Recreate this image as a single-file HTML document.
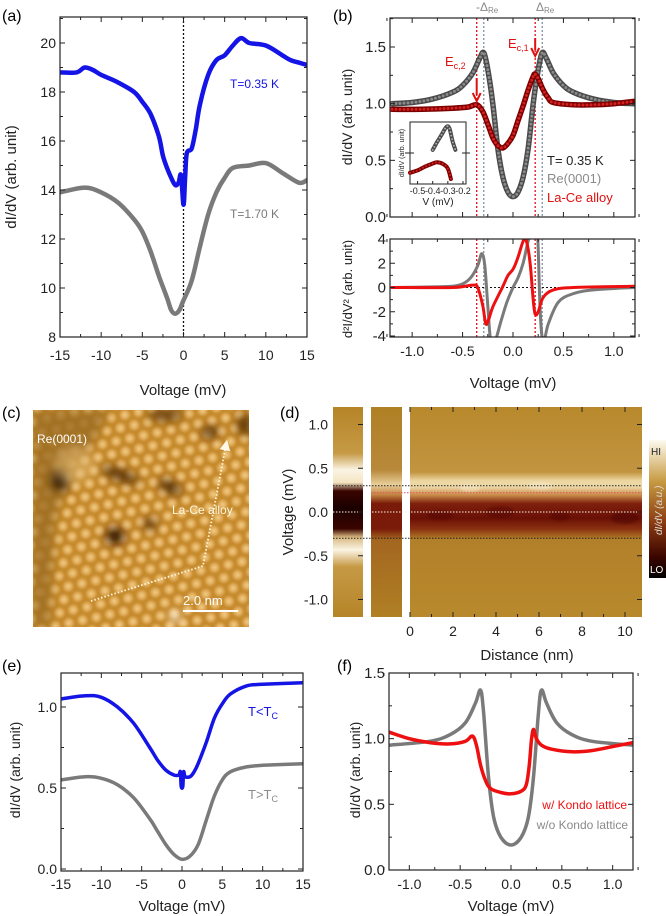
<!DOCTYPE html>
<html><head><meta charset="utf-8"><style>
html,body{margin:0;padding:0;background:#fff;width:666px;height:916px;overflow:hidden}
svg{display:block;font-family:"Liberation Sans",Arial,sans-serif}
</style></head><body>
<svg id="fig" width="666" height="916" viewBox="0 0 666 916" xmlns="http://www.w3.org/2000/svg">
<defs>
<clipPath id="clipA"><rect x="60" y="17" width="247" height="320"/></clipPath>
<clipPath id="clipB1"><rect x="390" y="18" width="245" height="199"/></clipPath>
<clipPath id="clipB2"><rect x="390" y="239" width="245" height="98"/></clipPath>
<clipPath id="clipE"><rect x="61" y="673" width="242" height="198"/></clipPath>
<clipPath id="clipF"><rect x="389" y="673" width="244" height="197"/></clipPath>
<clipPath id="clipC"><rect x="33" y="410" width="216" height="217"/></clipPath>
<radialGradient id="atom" cx="50%" cy="50%" r="50%">
<stop offset="0" stop-color="#f2cf88"/><stop offset="0.6" stop-color="#dca552"/><stop offset="1" stop-color="#c98a2c" stop-opacity="0"/>
</radialGradient>
<pattern id="lattice" x="0" y="0" width="14" height="24" patternUnits="userSpaceOnUse">
<circle cx="7" cy="6" r="7" fill="url(#atom)"/><circle cx="0" cy="18" r="7" fill="url(#atom)"/><circle cx="14" cy="18" r="7" fill="url(#atom)"/>
</pattern>
<filter id="blur2"><feGaussianBlur stdDeviation="5"/></filter>
<filter id="blur1"><feGaussianBlur stdDeviation="1"/></filter>
<filter id="blur08"><feGaussianBlur stdDeviation="0.9"/></filter>
<linearGradient id="strip1" x1="0" y1="0" x2="0" y2="1">
<stop offset="0" stop-color="#b58427"/><stop offset="0.22" stop-color="#c69a45"/><stop offset="0.3" stop-color="#fbf4e4"/><stop offset="0.36" stop-color="#f3e4c0"/><stop offset="0.4" stop-color="#3a0500"/><stop offset="0.48" stop-color="#1a0000"/><stop offset="0.58" stop-color="#3a0500"/><stop offset="0.62" stop-color="#d8b880"/><stop offset="0.68" stop-color="#fbf4e4"/><stop offset="0.76" stop-color="#c69a45"/><stop offset="1" stop-color="#b58427"/>
</linearGradient>
<linearGradient id="strip2" x1="0" y1="0" x2="0" y2="1">
<stop offset="0" stop-color="#b08024"/><stop offset="0.3" stop-color="#b8893a"/><stop offset="0.37" stop-color="#e8cf9a"/><stop offset="0.42" stop-color="#c08040"/><stop offset="0.46" stop-color="#7a1a08"/><stop offset="0.58" stop-color="#7a1a08"/><stop offset="0.63" stop-color="#a36620"/><stop offset="1" stop-color="#b08024"/>
</linearGradient>
<linearGradient id="strip3" x1="0" y1="0" x2="0" y2="1">
<stop offset="0" stop-color="#b8892c"/><stop offset="0.31" stop-color="#c29440"/><stop offset="0.35" stop-color="#ecd6a0"/><stop offset="0.38" stop-color="#eed9a8"/><stop offset="0.42" stop-color="#c88a48"/><stop offset="0.46" stop-color="#7e200c"/><stop offset="0.53" stop-color="#6a1006"/><stop offset="0.58" stop-color="#8a3010"/><stop offset="0.63" stop-color="#b2802a"/><stop offset="1" stop-color="#b8892c"/>
</linearGradient>
<linearGradient id="cbar" x1="0" y1="0" x2="0" y2="1">
<stop offset="0" stop-color="#fdfaf0"/><stop offset="0.3" stop-color="#c79a42"/><stop offset="0.6" stop-color="#8a3a10"/><stop offset="0.85" stop-color="#3a0500"/><stop offset="1" stop-color="#000"/>
</linearGradient>
<marker id="arrowW" markerWidth="6" markerHeight="6" refX="3" refY="3" orient="auto"><path d="M0,0 L6,3 L0,6 z" fill="#fff8e8"/></marker>
</defs>

<text x="2" y="21" font-size="16">(a)</text>
<text x="333" y="21" font-size="16">(b)</text>
<text x="2" y="418" font-size="16">(c)</text>
<text x="280" y="418" font-size="16">(d)</text>
<text x="2" y="671" font-size="16">(e)</text>
<text x="337" y="671" font-size="16">(f)</text>

<g clip-path="url(#clipC)">
<rect x="33" y="410" width="216" height="217" fill="#c48a2c"/>
<g filter="url(#blur08)"><rect x="0" y="380" width="300" height="280" fill="url(#lattice)" transform="rotate(-12 140 520)"/></g>
<g filter="url(#blur2)">
<path d="M33,410 L110,410 L95,440 L70,470 L55,520 L50,627 L33,627 Z" fill="#9a6a1e" opacity="0.8"/>
<ellipse cx="60" cy="480" rx="10" ry="12" fill="#2a1000"/>
<ellipse cx="115" cy="536" rx="9" ry="8" fill="#2a1000"/>
<ellipse cx="150" cy="524" rx="6" ry="5" fill="#3a1a00"/>
<ellipse cx="120" cy="475" rx="20" ry="5" fill="#4a2500" transform="rotate(20 120 475)"/>
<ellipse cx="170" cy="487" rx="12" ry="5" fill="#3a1a00" transform="rotate(25 170 487)"/>
<ellipse cx="210" cy="432" rx="8" ry="5" fill="#3a1a00"/>
<ellipse cx="245" cy="425" rx="8" ry="10" fill="#5a3000"/>
<ellipse cx="165" cy="415" rx="18" ry="6" fill="#6a4010"/>
<ellipse cx="75" cy="465" rx="20" ry="18" fill="#e0b870" opacity="0.6"/>
<ellipse cx="175" cy="617" rx="5" ry="5" fill="#fff"/>
</g>
</g>
<text x="37" y="443" font-size="12" fill="#fff">Re(0001)</text>
<text x="172" y="514" font-size="12" fill="#fff8e0">La-Ce alloy</text>
<polyline points="91,601 203,566 226,445" fill="none" stroke="#fff8e0" stroke-width="1.8" stroke-dasharray="1.5 2" marker-end="url(#arrowW)"/>
<text x="183" y="605" font-size="13" fill="#fff">2.0 nm</text>
<line x1="183" y1="611" x2="238" y2="611" stroke="#fff" stroke-width="2"/>

<rect x="333" y="407" width="30" height="210" fill="url(#strip1)"/>
<rect x="371" y="407" width="31" height="210" fill="url(#strip2)"/>
<rect x="410" y="407" width="232" height="210" fill="url(#strip3)"/>
<g opacity="0.35" filter="url(#blur1)">
<ellipse cx="440" cy="515" rx="12" ry="5" fill="#4a0500"/><ellipse cx="500" cy="512" rx="14" ry="6" fill="#4a0500"/>
<ellipse cx="560" cy="516" rx="10" ry="5" fill="#4a0500"/><ellipse cx="625" cy="518" rx="14" ry="6" fill="#3a0000"/>
<ellipse cx="470" cy="488" rx="10" ry="4" fill="#fff6e0"/><ellipse cx="540" cy="486" rx="12" ry="4" fill="#fff6e0"/>
</g>
<g id="heatAxes"></g>
<rect x="649" y="440" width="17" height="138" fill="url(#cbar)"/>
<text x="651" y="455" font-size="10" fill="#222">HI</text>
<text x="650" y="573" font-size="10" fill="#fff">LO</text>
<text transform="translate(662,535) rotate(-90)" font-size="10" font-style="italic" fill="#ddd">dI/dV (a.u.)</text>

<g id="plots"></g>
</svg>
<script>
const aV = [-15,-13,-12,-11,-10,-8,-6,-5,-4,-3,-2.5,-2,-1.5,-1,-0.6,-0.3,0,0.2,0.4,1,1.5,2,3,4,5,6,7,8,10,12,13,14,15];
const aBlue = [18.8,18.8,19.0,18.9,18.7,18.4,18.0,17.6,17.1,16.2,15.4,14.9,14.5,14.2,14.3,14.6,13.4,14.5,15.5,15.7,16.5,17.5,18.7,19.3,19.5,19.9,20.2,20.0,19.9,19.5,19.3,19.2,19.1];
const aGrayV = [-15,-12,-10,-8,-6,-5,-4,-3,-2,-1.5,-1,-0.5,0,1,2,3,4,5,6,8,10,12,14,15];
const aGray = [13.9,14.1,13.9,13.5,12.8,12.3,11.5,10.5,9.6,9.1,8.95,9.1,9.5,10.3,11.7,13.0,13.9,14.5,14.9,15.0,15.1,14.7,14.3,14.4];

const bReV = [-1.2,-1.0,-0.8,-0.6,-0.5,-0.4,-0.33,-0.29,-0.25,-0.2,-0.15,-0.1,-0.05,0,0.05,0.1,0.15,0.2,0.25,0.29,0.33,0.4,0.5,0.6,0.8,1.0,1.2];
const bRe = [1.0,1.01,1.04,1.1,1.16,1.27,1.4,1.45,1.3,1.0,0.6,0.35,0.22,0.18,0.22,0.35,0.6,1.0,1.3,1.45,1.4,1.27,1.16,1.1,1.04,1.01,1.0];
const bLaV = [-1.2,-0.9,-0.6,-0.45,-0.36,-0.3,-0.25,-0.2,-0.15,-0.1,-0.05,0,0.05,0.1,0.15,0.2,0.22,0.25,0.3,0.35,0.4,0.6,0.8,1.0,1.2];
const bLa = [0.95,0.95,0.96,0.97,0.99,0.93,0.82,0.7,0.63,0.61,0.65,0.72,0.85,0.98,1.12,1.24,1.26,1.22,1.12,1.05,1.01,0.99,0.99,1.0,1.02];

const dReV = [-1.2,-0.8,-0.6,-0.5,-0.42,-0.35,-0.31,-0.28,-0.25,-0.22,-0.18,-0.12,-0.06,0,0.05,0.1,0.15,0.2,0.24,0.27,0.3,0.35,0.45,0.6,0.8,1.2];
const dRe = [0,0.05,0.1,0.3,0.8,1.8,2.8,1.8,-1.5,-4.5,-4.5,-2.8,-1.2,0,0.8,2,3.8,5,5,-2,-4.5,-3,-1.2,-0.5,-0.2,0];
const dLaV = [-1.2,-0.6,-0.4,-0.35,-0.3,-0.27,-0.24,-0.2,-0.1,-0.05,0,0.05,0.1,0.13,0.17,0.2,0.22,0.25,0.3,0.4,0.6,1.2];
const dLa = [0,0,0.2,0,-1.5,-3,-2.6,-1.6,0.1,1,1.5,2.5,3.8,3.9,2,-1,-2.2,-2,-0.8,-0.2,0,0.1];

const insetV = [-0.4,-0.37,-0.34,-0.31,-0.29,-0.27,-0.25];
const insetRe = [0.55,0.68,0.8,0.92,0.9,0.7,0.55];
const insetLaV = [-0.55,-0.5,-0.45,-0.4,-0.37,-0.33,-0.3,-0.28];
const insetLa = [0.18,0.22,0.28,0.33,0.35,0.32,0.25,0.08];

const eV = [-15,-12,-10,-8,-6,-4,-3,-2,-1,-0.4,-0.2,-0.1,0.1,0.2,0.4,1,1.5,2,3,4,5,6,8,10,15];
const eBlue = [1.05,1.07,1.06,1.0,0.9,0.75,0.67,0.61,0.58,0.58,0.6,0.51,0.51,0.6,0.57,0.57,0.6,0.65,0.78,0.93,1.02,1.08,1.13,1.14,1.15];
const eGrayV = [-15,-12,-10,-8,-6,-4,-3,-2,-1,0,1,2,3,4,5,6,8,10,15];
const eGray = [0.55,0.57,0.56,0.52,0.44,0.31,0.23,0.15,0.09,0.06,0.08,0.15,0.3,0.45,0.55,0.6,0.63,0.64,0.65];

const fGrayV = [-1.2,-0.8,-0.6,-0.45,-0.35,-0.3,-0.27,-0.22,-0.17,-0.1,0,0.1,0.17,0.22,0.27,0.3,0.35,0.45,0.6,0.8,1.2];
const fGray = [0.95,0.98,1.03,1.12,1.27,1.37,1.2,0.7,0.4,0.25,0.19,0.25,0.4,0.7,1.2,1.37,1.27,1.12,1.03,0.98,0.95];
const fRedV = [-1.2,-1.0,-0.8,-0.6,-0.45,-0.38,-0.34,-0.3,-0.25,-0.2,-0.1,0,0.1,0.15,0.18,0.2,0.22,0.25,0.3,0.4,0.6,0.8,1.0,1.2];
const fRed = [1.05,1.0,0.97,0.96,0.98,1.02,0.95,0.8,0.68,0.62,0.59,0.58,0.6,0.65,0.8,0.98,1.07,1.0,0.95,0.92,0.9,0.91,0.94,0.97];

const mvTicks15 = [-15,-10,-5,0,5,10,15];
const mvTicks1 = [-1.0,-0.5,0.0,0.5,1.0];
const distTicks = [0,2,4,6,8,10];

const NS = 'http://www.w3.org/2000/svg';
const root = document.getElementById('plots');
function mk(tag, attrs, parent){ const e=document.createElementNS(NS,tag); for(const k in attrs) e.setAttribute(k,attrs[k]); (parent||root).appendChild(e); return e; }
function scale(d0,d1,r0,r1){ return v => r0 + (v-d0)/(d1-d0)*(r1-r0); }
function smoothPath(xs, ys, sx, sy){
  const p = xs.map((x,i)=>[sx(x), sy(ys[i])]);
  let d = 'M'+p[0][0].toFixed(1)+','+p[0][1].toFixed(1);
  for(let i=0;i<p.length-1;i++){
    const p0=p[Math.max(0,i-1)], p1=p[i], p2=p[i+1], p3=p[Math.min(p.length-1,i+2)];
    const c1=[p1[0]+(p2[0]-p0[0])/6, p1[1]+(p2[1]-p0[1])/6];
    const c2=[p2[0]-(p3[0]-p1[0])/6, p2[1]-(p3[1]-p1[1])/6];
    d += ' C'+c1[0].toFixed(1)+','+c1[1].toFixed(1)+' '+c2[0].toFixed(1)+','+c2[1].toFixed(1)+' '+p2[0].toFixed(1)+','+p2[1].toFixed(1);
  }
  return d;
}
function box(x0,y0,x1,y1,name){
  const r = mk('rect',{x:x0,y:y0,width:x1-x0,height:y1-y0,fill:'none',stroke:'#222','stroke-width':1.2});
  
  
}
function xTicks(sx, y0, y1, majors, minorStep, lo, hi, labelY, fmt, name, fs){
  const g = mk('g',{});
  
  
  for(let v=lo; v<=hi+1e-9; v+=minorStep){
    const isMaj = majors.some(m=>Math.abs(m-v)<1e-6);
    const L = isMaj?5:3, x=sx(v);
    mk('line',{x1:x,y1:y1,x2:x,y2:y1-L,stroke:'#222','stroke-width':1},g);
    if(y0!==null) mk('line',{x1:x,y1:y0,x2:x,y2:y0+L,stroke:'#222','stroke-width':1},g);
  }
  if(labelY!==null) majors.forEach(m=>{
    const t = mk('text',{x:sx(m),y:labelY,'font-size':fs||14,'text-anchor':'middle',fill:'#222'},g);
    t.textContent = fmt(m);
  });
}
function yTicks(sy, x0, x1, majors, minorStep, lo, hi, fmt, name, fs, right){
  const g = mk('g',{});
  
  
  for(let v=lo; v<=hi+1e-9; v+=minorStep){
    const isMaj = majors.some(m=>Math.abs(m-v)<1e-6);
    const L = isMaj?5:3, y=sy(v);
    mk('line',{x1:x0,y1:y,x2:x0+L,y2:y,stroke:'#222','stroke-width':1},g);
    if(right!==false) mk('line',{x1:x1,y1:y,x2:x1-L,y2:y,stroke:'#222','stroke-width':1},g);
  }
  majors.forEach(m=>{
    const t = mk('text',{x:x0-4,y:sy(m)+5,'font-size':fs||14,'text-anchor':'end',fill:'#222'},g);
    t.textContent = fmt(m);
  });
}
function label(txt,x,y,name,opt){
  const o = Object.assign({'font-size':14,fill:'#222'},opt||{});
  o.x=x; o.y=y;
  const t = mk('text',o);
  
  
  t.textContent = txt;
  return t;
}
function ylab(txt,x,y,name,fs){
  const t = mk('text',{transform:`translate(${x},${y}) rotate(-90)`,'font-size':fs||14,'text-anchor':'middle',fill:'#222'});
  
  
  t.textContent = txt;
  return t;
}
function curve(xs,ys,sx,sy,color,w,clip,name,extra){
  const a = {d:smoothPath(xs,ys,sx,sy),fill:'none',stroke:color,'stroke-width':w,'stroke-linejoin':'round','stroke-linecap':'round','clip-path':'url(#'+clip+')'};
  const p = mk('path', Object.assign(a, extra||{}));
  
  
  return p;
}
const f0 = v=>String(v);
const f1 = v=>v.toFixed(1);

{
  const sx = scale(-15,15,60,307), sy = scale(8,20,337,43);
  const l = mk('line',{x1:sx(0),y1:17,x2:sx(0),y2:337,stroke:'#111','stroke-width':1.3,'stroke-dasharray':'2 2'});
   
  curve(aGrayV,aGray,sx,sy,'#7a7a7a',4.5,'clipA','a-series-1p70K');
  curve(aV,aBlue,sx,sy,'#1414e6',4.5,'clipA','a-series-0p35K');
  box(60,17,307,337,'a-plot-frame');
  xTicks(sx,17,337,mvTicks15,2.5,-15,15,360,f0,'a-x-axis');
  yTicks(sy,60,307,[8,10,12,14,16,18,20],1,8,21,f0,'a-y-axis');
  label('Voltage (mV)',183,395,'a-x-title',{'text-anchor':'middle','font-size':15});
  ylab('dI/dV (arb. unit)',16,177,'a-y-title',15);
  label('T=0.35 K',230,88,'a-legend-0p35K',{fill:'#1414e6','font-size':12});
  label('T=1.70 K',230,218,'a-legend-1p70K',{fill:'#7a7a7a','font-size':12});
}
{
  const sx = scale(-1.2,1.2,392,634);
  const sy = scale(0,1.5,217,47);
  const sy2 = scale(-4,4,336,239);
  [[-0.36,'#e01010'],[0.22,'#e01010'],[-0.29,'#8090a0'],[0.29,'#8090a0']].forEach(([v,c],i)=>{
    [[18,217],[239,337]].forEach(([a,b])=>{
      const l = mk('line',{x1:sx(v),y1:a,x2:sx(v),y2:b,stroke:c,'stroke-width':1.3,'stroke-dasharray':'2 2'});
       
    });
  });
  const z = mk('line',{x1:390,y1:sy2(0),x2:635,y2:sy2(0),stroke:'#111','stroke-width':1,'stroke-dasharray':'2 2'});
   
  curve(bReV,bRe,sx,sy,'#4a4a4a',5.5,'clipB1','b-series-re-outline');
  curve(bReV,bRe,sx,sy,'#8a8a8a',3,'clipB1','b-series-re',{'stroke-dasharray':'0 4'});
  curve(bLaV,bLa,sx,sy,'#7a0000',5.5,'clipB1','b-series-lace-outline');
  curve(bLaV,bLa,sx,sy,'#d42020',3,'clipB1','b-series-lace',{'stroke-dasharray':'0 4'});
  curve(dReV,dRe,sx,sy2,'#7a7a7a',3,'clipB2','b-deriv-re');
  curve(dLaV,dLa,sx,sy2,'#ee1010',3,'clipB2','b-deriv-lace');
  box(390,18,635,217,'b-top-frame');
  box(390,239,635,337,'b-bottom-frame');
  xTicks(sx,18,217,mvTicks1,0.25,-1.25,1.25,null,f1,'b-top-x-axis');
  yTicks(sy,390,635,[0,0.5,1.0,1.5],0.25,0,1.75,f1,'b-top-y-axis',15);
  xTicks(sx,239,337,mvTicks1,0.25,-1.25,1.25,356,f1,'b-bottom-x-axis');
  yTicks(sy2,390,635,[-4,-2,0,2,4],1,-4,4,f0,'b-bottom-y-axis',15);
  label('Voltage (mV)',513,388,'b-x-title',{'text-anchor':'middle','font-size':15});
  ylab('dI/dV (arb. unit)',352,117,'b-top-y-title',14);
  ylab('d²I/dV² (arb. unit)',352,289,'b-bottom-y-title',13);
  label('T= 0.35 K',547,165,'b-legend-temp',{'font-size':13});
  label('Re(0001)',547,183,'b-legend-re',{'font-size':13,fill:'#8a8a8a'});
  label('La-Ce alloy',547,202,'b-legend-lace',{'font-size':13,fill:'#e01010'});
  label('-Δ',476,11,'b-delta-minus',{'font-size':12,fill:'#8a8a8a'}).innerHTML='-Δ<tspan font-size="8" dy="2">Re</tspan>';
  label('Δ',536,11,'b-delta-plus',{'font-size':12,fill:'#8a8a8a'}).innerHTML='Δ<tspan font-size="8" dy="2">Re</tspan>';
  label('E',445,66,'b-ec2-label',{'font-size':13,fill:'#e01010'}).innerHTML='E<tspan font-size="9" dy="3">c,2</tspan>';
  label('E',508,48,'b-ec1-label',{'font-size':13,fill:'#e01010'}).innerHTML='E<tspan font-size="9" dy="3">c,1</tspan>';
  [[sx(-0.36),78,101],[sx(0.22),38,56]].forEach(([x,a,b],i)=>{
    const p = mk('path',{d:`M${x},${a} L${x},${b-6} M${x-4},${b-8} L${x},${b} L${x+4},${b-8}`,stroke:'#e01010','stroke-width':2,fill:'none'});
     
  });
  const ix = scale(-0.55,-0.18,410,466), iy = scale(0,1,184,122);
  const bg = mk('rect',{x:410,y:122,width:56,height:62,fill:'#fff',stroke:'#222','stroke-width':1});
   
  curve(insetV,insetRe,ix,iy,'#4a4a4a',4,'clipB1','b-inset-re-outline');
  curve(insetV,insetRe,ix,iy,'#aaa',2,'clipB1','b-inset-re',{'stroke-dasharray':'0 3.5'});
  curve(insetLaV,insetLa,ix,iy,'#7a0000',4,'clipB1','b-inset-lace-outline');
  curve(insetLaV,insetLa,ix,iy,'#e02020',2,'clipB1','b-inset-lace',{'stroke-dasharray':'0 3.5'});
  const it = mk('g',{});
   
  [-0.5,-0.4,-0.3,-0.2].forEach(v=>{
    mk('line',{x1:ix(v),y1:184,x2:ix(v),y2:181,stroke:'#222'},it);
    const t=mk('text',{x:ix(v),y:194,'font-size':9,'text-anchor':'middle',fill:'#222'},it); t.textContent=v.toFixed(1);
  });
  mk('line',{x1:405,y1:iy(0.5),x2:414,y2:iy(0.5),stroke:'#222'},it);
  mk('line',{x1:462,y1:iy(0.5),x2:470,y2:iy(0.5),stroke:'#222'},it);
  label('V (mV)',438,205,'b-inset-x-title',{'font-size':10,'text-anchor':'middle'});
  ylab('dI/dV (arb. unit)',404,153,'b-inset-y-title',7);
}
{
  const sy = scale(-1.2,1.2,617,407), sx = scale(0,10,410,625);
  const g = document.getElementById('heatAxes');
  [[0.3,'#222',333],[-0.3,'#222',333],[0.22,'#e05050',371],[0,'#f4f0e8',333]].forEach(([v,c,x0])=>{
    const l = mk('line',{x1:x0,y1:sy(v),x2:642,y2:sy(v),stroke:c,'stroke-width':1,'stroke-dasharray':'1.5 1.5'},g);
     
  });
  const yt = mk('g',{},g);
   
  [-1.0,-0.5,0,0.5,1.0].forEach(v=>{
    mk('line',{x1:363,y1:sy(v),x2:358,y2:sy(v),stroke:'#222'},yt);
    mk('line',{x1:642,y1:sy(v),x2:637,y2:sy(v),stroke:'#222'},yt);
    const t=mk('text',{x:328,y:sy(v)+5,'font-size':14,'text-anchor':'end',fill:'#222'},yt); t.textContent=v.toFixed(1);
  });
  const xt = mk('g',{},g);
   
  for(let v=0; v<=10.01; v+=1){
    const L = (v%2===0)?5:3;
    mk('line',{x1:sx(v),y1:617,x2:sx(v),y2:617-L,stroke:'#222'},xt);
    mk('line',{x1:sx(v),y1:407,x2:sx(v),y2:407+L,stroke:'#222'},xt);
  }
  distTicks.forEach(v=>{ const t=mk('text',{x:sx(v),y:636,'font-size':14,'text-anchor':'middle',fill:'#222'},xt); t.textContent=String(v); });
  const t1 = mk('text',{x:527,y:660,'font-size':15,'text-anchor':'middle',fill:'#222'},g);
    t1.textContent='Distance (nm)';
  const t2 = mk('text',{transform:'translate(293,512) rotate(-90)','font-size':15,'text-anchor':'middle',fill:'#222'},g);
    t2.textContent='Voltage (mV)';
}
{
  const sx = scale(-15,15,61,303), sy = scale(0,0.5,869,788);
  curve(eGrayV,eGray,sx,sy,'#7a7a7a',3.5,'clipE','e-series-above-tc');
  curve(eV,eBlue,sx,sy,'#1414e6',3.5,'clipE','e-series-below-tc');
  box(61,673,303,871,'e-plot-frame');
  xTicks(sx,673,871,mvTicks15,2.5,-15,15,889,f0,'e-x-axis');
  yTicks(sy,61,303,[0,0.5,1.0],0.25,0,1.2,f1,'e-y-axis');
  label('Voltage (mV)',182,911,'e-x-title',{'text-anchor':'middle','font-size':15});
  ylab('dI/dV (arb. unit)',20,770,'e-y-title',14);
  label('T<T',248,716,'e-legend-below',{fill:'#1414e6','font-size':13}).innerHTML='T&lt;T<tspan font-size="9" dy="3">C</tspan>';
  label('T>T',248,799,'e-legend-above',{fill:'#8a8a8a','font-size':13}).innerHTML='T&gt;T<tspan font-size="9" dy="3">C</tspan>';
}
{
  const sx = scale(-1.2,1.2,389,633), sy = scale(0,1.5,870,673);
  curve(fGrayV,fGray,sx,sy,'#7a7a7a',3.5,'clipF','f-series-without-kondo');
  curve(fRedV,fRed,sx,sy,'#ee1010',3.5,'clipF','f-series-with-kondo');
  box(389,673,633,870,'f-plot-frame');
  xTicks(sx,673,870,mvTicks1,0.25,-1.25,1.25,889,f1,'f-x-axis');
  yTicks(sy,389,633,[0,0.5,1.0,1.5],0.25,0,1.5,f1,'f-y-axis',15);
  label('Voltage (mV)',511,911,'f-x-title',{'text-anchor':'middle','font-size':15});
  ylab('dI/dV (arb. unit)',360,770,'f-y-title',14);
  label('w/ Kondo lattice',627,809,'f-legend-with',{fill:'#ee1010','font-size':12,'text-anchor':'end'});
  label('w/o Kondo lattice',628,829,'f-legend-without',{fill:'#8a8a8a','font-size':12,'text-anchor':'end'});
}
</script>
</body></html>
